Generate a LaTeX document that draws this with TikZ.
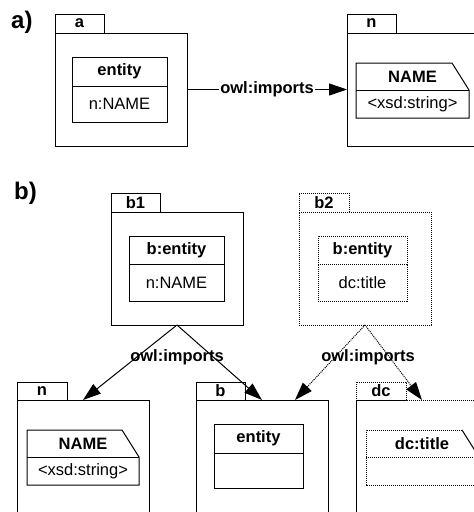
\documentclass[tikz,border=0pt]{standalone}
\usepackage{fontspec}
\setmainfont{Liberation Sans}
\usetikzlibrary{arrows.meta,calc}
\begin{document}
\begin{tikzpicture}[x=1pt,y=-1pt,
  box/.style={draw, line width=1pt, inner sep=0pt, outer sep=0pt, anchor=north west},
  fine/.style={dash pattern=on 1.2pt off 0.8pt},
  dotbox/.style={box, fine},
  lbl/.style={font=\fontsize{16.5}{18}\selectfont\bfseries},
  txt/.style={font=\fontsize{16.5}{18}\selectfont},
  big/.style={font=\fontsize{24}{26}\selectfont\bfseries},
  imp/.style={line width=1pt, -{Triangle[length=18pt,width=12pt]}},
  edge/.style={line width=1pt}
]
\useasboundingbox (0,0) rectangle (474,512);
\begin{scope}
\clip (0,0) rectangle (474,512);

% ---------- a) ----------
\node[big, anchor=base west, inner sep=0pt] (la) at (11,28) {a)};

\node[box, lbl, minimum width=49pt, minimum height=19pt] (aTab) at (55,14) {a};
\node[box, minimum width=132pt, minimum height=113pt] (aBody) at (55,33) {};
\node[box, lbl, minimum width=95pt, minimum height=29pt] (aHead) at (72,57) {entity};
\node[box, txt, minimum width=95pt, minimum height=36pt] (aAttr) at (72,86) {n:NAME};

\node[box, lbl, minimum width=49pt, minimum height=19pt] (nTab) at (347,14) {n};
\node[box, minimum width=132pt, minimum height=113pt] (nBody) at (347,33) {};
\draw[edge] (356,63) -- (452,63) -- (469,90) -- (469,118) -- (356,118) -- cycle;
\draw[edge] (356,90) -- (469,90);
\node[lbl] (nName) at (412.5,77) {NAME};
\node[txt] (nType) at (412.5,104) {<xsd:string>};

\draw[imp] (aBody.east) -- node[lbl, fill=white, inner sep=1pt] (aImp) {owl:imports} (nBody.west);

% ---------- b) ----------
\node[big, anchor=base west, inner sep=0pt] (lb) at (14,199) {b)};

\node[box, lbl, minimum width=49pt, minimum height=19pt] (b1Tab) at (111,193) {b1};
\node[box, minimum width=132pt, minimum height=113pt] (b1Body) at (111,212) {};
\node[box, lbl, minimum width=95pt, minimum height=28pt] (b1Head) at (129,236) {b:entity};
\node[box, txt, minimum width=95pt, minimum height=37pt] (b1Attr) at (129,264) {n:NAME};

\node[dotbox, lbl, minimum width=50pt, minimum height=19pt] (b2Tab) at (299,193) {b2};
\node[dotbox, minimum width=132pt, minimum height=113pt] (b2Body) at (299,212) {};
\node[dotbox, lbl, minimum width=89pt, minimum height=28pt] (b2Head) at (318,236) {b:entity};
\node[dotbox, txt, minimum width=89pt, minimum height=37pt] (b2Attr) at (318,264) {dc:title};

% bottom row
\node[box, lbl, minimum width=50pt, minimum height=18pt] (mTab) at (17,382) {n};
\node[box, minimum width=132pt, minimum height=140pt] (mBody) at (17,400) {};
\draw[edge] (27,430) -- (122,430) -- (139,457) -- (139,485) -- (27,485) -- cycle;
\draw[edge] (27,457) -- (139,457);
\node[lbl] (mName) at (83,444) {NAME};
\node[txt] (mType) at (83,471) {<xsd:string>};

\node[box, lbl, minimum width=49pt, minimum height=18pt] (bTab) at (196,382) {b};
\node[box, minimum width=132pt, minimum height=140pt] (bBody) at (196,400) {};
\node[box, lbl, minimum width=89pt, minimum height=29pt] (bHead) at (214,424) {entity};
\node[box, minimum width=89pt, minimum height=35pt] (bAttr) at (214,453) {};

\node[dotbox, lbl, minimum width=50pt, minimum height=18pt] (dcTab) at (356,382) {dc};
\node[box, draw=none, minimum width=132pt, minimum height=140pt] (dcBody) at (356,400) {};
\draw[edge, fine] (dcBody.south east) -- (dcBody.north east) -- (dcBody.north west);
\draw[edge] (dcBody.north west) -- (dcBody.south west);
\draw[edge, fine] (462,430) -- (366,430) -- (366,485) -- (479,485);
\draw[edge] (462,430) -- (479,457);
\draw[edge, fine] (366,457) -- (479,457);
\node[lbl] (dcName) at (422,444) {dc:title};

% imports
\draw[imp] (b1Body.south) -- (mBody.north);
\draw[imp] (b1Body.south) -- (bBody.north);
\node[lbl] (b1Imp) at (177,357) {owl:imports};

\draw[imp, densely dotted] (b2Body.south) -- ($(bBody.north)!0.5!(bBody.north east)$);
\draw[imp, densely dotted] (b2Body.south) -- (dcBody.north);
\node[lbl] (b2Imp) at (368,357) {owl:imports};
\end{scope}
\end{tikzpicture}
\end{document}
